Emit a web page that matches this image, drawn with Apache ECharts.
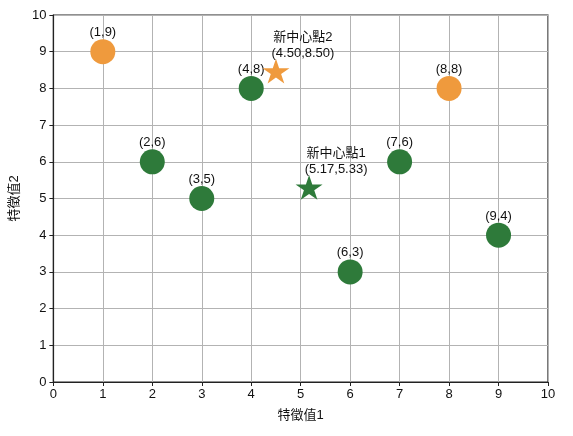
<!DOCTYPE html>
<html><head><meta charset="utf-8">
<script src="https://cdn.jsdelivr.net/npm/echarts@6/dist/echarts.min.js"></script>
<style>html,body{margin:0;padding:0;background:#fff}#c{width:573px;height:436px}</style>
</head><body><div id="c"></div>
<script>
var cluster2X = [1, 8];
var cluster2Y = [9, 8];
var cluster1X = [2, 3, 4, 6, 7, 9];
var cluster1Y = [6, 5, 8, 3, 6, 4];
var center1 = [5.17, 5.33];
var center2 = [4.50, 8.50];
var center1Name = '新中心點1';
var center2Name = '新中心點2';
var xTicks = [0,1,2,3,4,5,6,7,8,9,10];
var yTicks = [0,1,2,3,4,5,6,7,8,9,10];
var xTitle = '特徵值1';
var yTitle = '特徵值2';

var ORANGE = '#ef9a3d', GREEN = '#2e7a3a';
var FONT = '"Liberation Sans", Arial, "Noto Sans CJK TC", sans-serif';
var STAR = 'path://M100,0 L122.45,69.1 L195.11,69.1 L136.33,111.8 L158.78,180.9 L100,138.2 L41.22,180.9 L63.67,111.8 L4.89,69.1 L77.55,69.1 Z';

function pts(xs, ys){ return xs.map(function(x,i){ return [x, ys[i]]; }); }
var ptLabel = {show:true, position:'inside', offset:[0,-19], color:'#111', fontSize:13, fontFamily:FONT,
  formatter:function(p){ return '(' + p.value[0] + ',' + p.value[1] + ')'; }};
function starLabel(name){
  return {show:true, position:'inside', offset:[27,-26], color:'#111', fontSize:13, lineHeight:16, fontFamily:FONT, align:'center',
    formatter:function(p){ return name + '\n(' + p.value[0].toFixed(2) + ',' + p.value[1].toFixed(2) + ')'; }};
}

var chart = echarts.init(document.getElementById('c'));
chart.setOption({
  animation:false,
  backgroundColor:'#fff',
  grid:{left:53, right:25, top:15, bottom:54, show:true, borderColor:'#222', borderWidth:1.2, backgroundColor:'transparent'},
  xAxis:{type:'value', min:xTicks[0], max:xTicks[xTicks.length-1], interval:1,
    name:xTitle, nameLocation:'middle', nameGap:27, nameTextStyle:{color:'#111', fontSize:13, fontFamily:FONT},
    axisLine:{show:true, lineStyle:{color:'#222', width:1.2}},
    axisTick:{show:true, length:4, lineStyle:{color:'#222'}},
    axisLabel:{color:'#111', fontSize:13, fontFamily:FONT, margin:6},
    splitLine:{show:true, lineStyle:{color:'#b3b3b3', width:1}}},
  yAxis:{type:'value', min:yTicks[0], max:yTicks[yTicks.length-1], interval:1,
    name:yTitle, nameLocation:'middle', nameGap:31, nameRotate:90, nameTextStyle:{color:'#111', fontSize:13, fontFamily:FONT},
    axisLine:{show:true, lineStyle:{color:'#222', width:1.2}},
    axisTick:{show:true, length:4, lineStyle:{color:'#222'}},
    axisLabel:{color:'#111', fontSize:13, fontFamily:FONT, margin:7},
    splitLine:{show:true, lineStyle:{color:'#b3b3b3', width:1}}},
  series:[
    {type:'scatter', data:pts(cluster2X, cluster2Y), symbol:'circle', symbolSize:25, itemStyle:{color:ORANGE, opacity:1}, label:ptLabel, z:3},
    {type:'scatter', data:pts(cluster1X, cluster1Y), symbol:'circle', symbolSize:25, itemStyle:{color:GREEN, opacity:1}, label:ptLabel, z:3},
    {type:'scatter', data:[center2], symbol:STAR, symbolKeepAspect:true, symbolSize:[27,26], symbolOffset:[0,1], itemStyle:{color:ORANGE, opacity:1}, label:starLabel(center2Name), z:4},
    {type:'scatter', data:[center1], symbol:STAR, symbolKeepAspect:true, symbolSize:[27,26], symbolOffset:[0,1], itemStyle:{color:GREEN, opacity:1}, label:starLabel(center1Name), z:4}
  ]
});
</script></body></html>
